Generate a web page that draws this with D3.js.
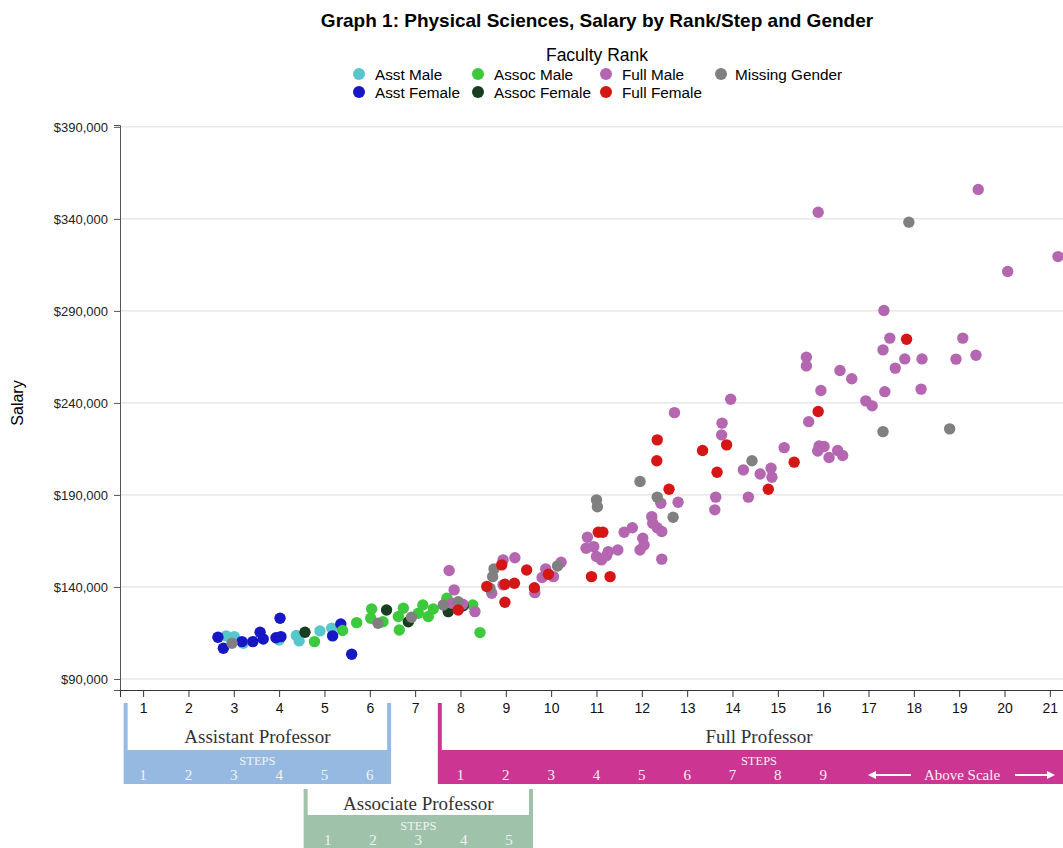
<!DOCTYPE html>
<html>
<head>
<meta charset="utf-8">
<script src="https://cdn.jsdelivr.net/npm/d3@7"></script>
<style>
    body { margin: 0; background: #fff; }
    svg text { font-family: Arial, "Liberation Sans", sans-serif; }
    .rank text { font-family: "Liberation Serif", "DejaVu Serif", serif; }
</style>
</head>
<body>
<div id="chart"></div>
<script>

// points are [step on the x axis, salary]
var asstMale = [[2.83,113400],[3.01,113000],[3.21,109400],[4.00,111200],[4.38,113600],[4.44,110700],[4.90,116100],[5.16,117600]];

var asstFemale = [[2.65,112700],[2.77,106700],[3.18,110300],[3.42,110300],[3.58,115400],[3.65,111700],[3.93,112400],
    [4.02,123000],[4.04,113000],[5.18,113400],[5.36,119900],[5.60,103400]];

var assocMale = [[4.78,110300],[5.40,116300],[5.71,120600],[6.02,123000],[6.04,128000],[6.29,121100],[6.63,123900],
    [6.65,116600],[6.74,128400],[7.07,125700],[7.17,130200],[7.29,123900],[7.40,128000],[7.70,133900],[8.27,130200],[8.43,115200]];

var assocFemale = [[4.57,115400],[6.37,127500],[6.85,121100],[7.73,126600],[8.06,129800]];

var fullMale = [[7.75,148900],[7.86,138400],[7.81,131100],[8.05,130600],[8.32,126600],[8.69,136600],[8.94,154700],
    [9.20,155900],[8.94,141100],[9.64,136900],[9.88,149800],[9.80,145100],[10.05,145600],[10.22,153400],[10.80,167000],
    [10.77,161000],[10.94,161900],[11.00,156500],[11.11,154700],[11.22,156900],[11.26,159200],[11.47,160100],[11.61,169700],
    [11.79,172200],[11.96,160100],[12.02,166500],[12.05,162800],[12.44,155100],[12.42,185500],[12.80,186000],[12.22,178200],
    [12.24,174600],[12.34,172200],[12.44,170100],[12.72,234700],[13.96,242000],[13.77,229000],[13.76,222600],[13.63,188800],
    [13.61,181900],[14.35,188800],[14.24,203600],[14.61,201400],[14.85,204500],[14.87,199600],[15.14,215700],[15.68,229800],
    [15.95,246700],[15.91,216600],[16.02,216300],[15.88,213900],[16.13,210300],[16.32,214100],[16.43,211400],[16.63,253100],
    [16.37,257600],[15.63,264800],[15.63,260100],[16.94,241100],[17.08,238400],[17.36,246100],[17.32,268800],[17.34,290200],
    [17.47,275200],[17.80,263900],[18.18,263900],[17.59,258900],[18.16,247500],[18.93,263800],[19.08,275200],[19.37,265900],
    [15.89,343600],[19.42,356000],[20.07,311400],[21.18,319500]];

var fullFemale = [[7.95,127500],[8.58,140200],[8.91,152000],[8.98,141500],[9.19,142000],[8.98,131700],[9.46,149200],
    [9.63,139600],[9.94,146900],[11.04,169700],[11.14,169700],[10.89,145600],[11.30,145600],[12.60,193100],[12.34,219900],
    [12.33,208600],[13.34,214100],[13.87,217200],[13.66,202300],[14.79,193100],[15.36,207800],[15.89,235300],[17.84,274600]];

var missingGender = [[2.96,109400],[6.18,120300],[6.92,123500],[7.62,130200],[7.95,132000],[8.65,139300],[8.71,145600],
    [8.74,149800],[10.14,151400],[11.00,187300],[11.02,183600],[11.96,197300],[12.34,188800],[12.69,177900],[14.43,208600],
    [17.32,224400],[18.79,225900],[17.89,338200]];

var groupNames = ["Asst Male", "Asst Female", "Assoc Male", "Assoc Female", "Full Male", "Full Female", "Missing Gender"];
var groupColors = ["#57c7cb", "#1717c6", "#3cc93c", "#183e1f", "#b466b0", "#d51616", "#808080"];
var groupData = [asstMale, asstFemale, assocMale, assocFemale, fullMale, fullFemale, missingGender];
var drawOrder = [0, 1, 2, 3, 4, 6, 5];

var salaryTicks = [90000, 140000, 190000, 240000, 290000, 340000, 390000];
var stepTicks = d3.range(1, 22);

// rank step labels and where they fall on the x axis
var rankNames = ["Assistant Professor", "Associate Professor", "Full Professor"];
var rankColors = ["#96b9e1", "#9ec3aa", "#cc3592"];
var rankStepLabels = [[1, 2, 3, 4, 5, 6], [1, 2, 3, 4, 5], [1, 2, 3, 4, 5, 6, 7, 8, 9]];
var rankStepPos = [[1, 2, 3, 4, 5, 6], [5.07, 6.07, 7.07, 8.07, 9.07], [8, 9, 10, 11, 12, 13, 14, 15, 16]];

var width = 1063, height = 848;
var margin = { top: 125, right: 0, bottom: 158, left: 120 };

var svg = d3.select("#chart").append("svg")
    .attr("width", width)
    .attr("height", height);

var x = d3.scaleLinear()
    .domain([0.49, 21.29])
    .range([margin.left, width - margin.right]);

var y = d3.scaleLinear()
    .domain([84000, 391000])
    .range([height - margin.bottom, margin.top]);

// title
svg.append("text")
    .attr("x", 597)
    .attr("y", 27)
    .attr("text-anchor", "middle")
    .style("font-size", "19px")
    .style("font-weight", "bold")
    .text("Graph 1: Physical Sciences, Salary by Rank/Step and Gender");

// legend
svg.append("text")
    .attr("x", 597)
    .attr("y", 61)
    .attr("text-anchor", "middle")
    .style("font-size", "17.5px")
    .text("Faculty Rank");

var legendX = [359, 359, 478, 478, 606, 606, 721];
var legendY = [74, 92, 74, 92, 74, 92, 74];

var legend = svg.append("g").attr("class", "legend")
    .selectAll("g")
    .data(groupNames)
    .enter().append("g")
    .attr("transform", function(d, i) { return "translate(" + legendX[i] + "," + legendY[i] + ")"; });

legend.append("circle")
    .attr("r", 6)
    .attr("fill", function(d, i) { return groupColors[i]; });

legend.append("text")
    .attr("x", function(d, i) { return i == 6 ? 14 : 16; })
    .attr("y", 5.5)
    .style("font-size", "15.3px")
    .text(function(d) { return d; });

// gridlines
svg.append("g")
    .selectAll("line")
    .data(salaryTicks)
    .enter().append("line")
    .attr("x1", margin.left)
    .attr("x2", width)
    .attr("y1", function(d) { return y(d); })
    .attr("y2", function(d) { return y(d); })
    .attr("stroke", "#dcdcdc")
    .attr("stroke-width", 1);

// axes
var yAxis = svg.append("g")
    .attr("transform", "translate(" + margin.left + ",0)")
    .call(d3.axisLeft(y).tickValues(salaryTicks).tickFormat(d3.format("$,")).tickSizeOuter(0).tickSize(6));

yAxis.selectAll("text").style("font-size", "13px").attr("fill", "#222").attr("x", -12);
yAxis.select(".domain").attr("stroke", "#555");
yAxis.selectAll(".tick line").attr("stroke", "#555");

var xAxis = svg.append("g")
    .attr("transform", "translate(0," + y.range()[0] + ")")
    .call(d3.axisBottom(x).tickValues(stepTicks).tickFormat(d3.format("d")).tickSizeOuter(0).tickSize(7));

xAxis.selectAll("text").style("font-size", "14px").attr("fill", "#111").attr("y", 13);
xAxis.select(".domain").attr("stroke", "#333");
xAxis.selectAll(".tick line").attr("stroke", "#333");

svg.append("text")
    .attr("transform", "translate(23,403) rotate(-90)")
    .attr("text-anchor", "middle")
    .style("font-size", "16px")
    .text("Salary");

// points
var pts = svg.append("g").attr("class", "points");
drawOrder.forEach(function(g) {
    pts.selectAll(".p" + g)
        .data(groupData[g])
        .enter().append("circle")
        .attr("class", "p" + g)
        .attr("cx", function(d) { return x(d[0]); })
        .attr("cy", function(d) { return y(d[1]); })
        .attr("r", 5.7)
        .attr("fill", groupColors[g]);
});

// rank / step bands under the axis
var bandTop = [750, 815, 750];
var bracketTop = [703, 789, 703];
var bandBottom = [784, 860, 784];
var padLeft = [0.43, 0.53, 0.5];
var padRight = [0.47, 0.53, 0.5];

var rank = svg.append("g").attr("class", "rank");

rankNames.forEach(function(name, r) {
    var pos = rankStepPos[r];
    var x0 = x(pos[0] - padLeft[r]);
    var x1 = r == 2 ? width + 10 : x(pos[pos.length - 1] + padRight[r]);
    var g = rank.append("g");

    g.append("rect")
        .attr("x", x0).attr("y", bandTop[r])
        .attr("width", x1 - x0).attr("height", bandBottom[r] - bandTop[r])
        .attr("fill", rankColors[r]);

    g.append("rect")
        .attr("x", x0).attr("y", bracketTop[r])
        .attr("width", 4).attr("height", bandTop[r] - bracketTop[r])
        .attr("fill", rankColors[r]);

    if (r != 2) {
        g.append("rect")
            .attr("x", x1 - 4).attr("y", bracketTop[r])
            .attr("width", 4).attr("height", bandTop[r] - bracketTop[r])
            .attr("fill", rankColors[r]);
    }

    var cx = r == 2 ? 759 : (x0 + x1) / 2;

    g.append("text")
        .attr("x", cx).attr("y", bandTop[r] - (r == 1 ? 5 : 7))
        .attr("text-anchor", "middle")
        .style("font-size", "19px")
        .attr("fill", "#333")
        .text(name);

    g.append("text")
        .attr("x", cx).attr("y", bandTop[r] + 15)
        .attr("text-anchor", "middle")
        .style("font-size", "12.5px")
        .attr("fill", "#f2f2f2")
        .text("STEPS");

    g.selectAll(".step")
        .data(rankStepLabels[r])
        .enter().append("text")
        .attr("class", "step")
        .attr("x", function(d, i) { return x(pos[i]); })
        .attr("y", bandTop[r] + 30)
        .attr("text-anchor", "middle")
        .style("font-size", "15px")
        .attr("fill", "#f2f2f2")
        .text(function(d) { return d; });
});

// "above scale" arrows on the full professor band
var aboveY = bandTop[2] + 25;
var arrows = rank.append("g").attr("stroke", "#fff").attr("fill", "#fff");
arrows.append("line").attr("x1", 911).attr("x2", 874).attr("y1", aboveY).attr("y2", aboveY).attr("stroke-width", 2);
arrows.append("path").attr("d", "M868," + aboveY + "l8,-4l0,8z").attr("stroke", "none");
arrows.append("line").attr("x1", 1015).attr("x2", 1049).attr("y1", aboveY).attr("y2", aboveY).attr("stroke-width", 2);
arrows.append("path").attr("d", "M1055," + aboveY + "l-8,-4l0,8z").attr("stroke", "none");

rank.append("text")
    .attr("x", 962).attr("y", bandTop[2] + 30)
    .attr("text-anchor", "middle")
    .style("font-size", "15px")
    .attr("fill", "#f2f2f2")
    .text("Above Scale");

</script>
</body>
</html>
